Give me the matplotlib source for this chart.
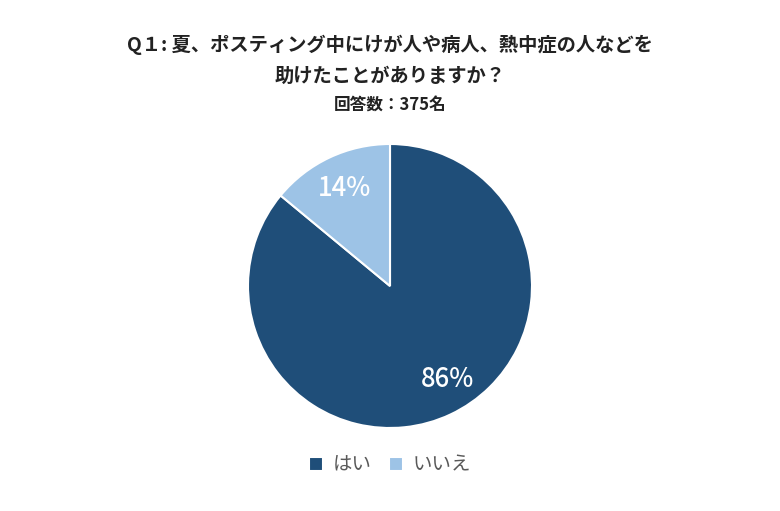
import matplotlib.pyplot as plt

plt.rcParams['font.family'] = ['Noto Sans CJK JP', 'DejaVu Sans']

# データ
labels = ['はい', 'いいえ']
values = [86, 14]
colors = ['#1F4E79', '#9DC3E6']

fig = plt.figure(figsize=(7.8, 5.11), dpi=100)
fig.patch.set_facecolor('white')

# 円グラフ
ax = fig.add_axes([(390 - 142) / 780, (225 - 142) / 511, 284 / 780, 284 / 511])
wedges, texts, autotexts = ax.pie(
    values, colors=colors, startangle=90, counterclock=False,
    autopct='%d%%', pctdistance=0.76,
    wedgeprops=dict(edgecolor='white', linewidth=1.5),
    textprops=dict(color='white', fontsize=18.5, fontweight='medium'))
# 86% のラベルを少し右上へ
x0, y0 = autotexts[0].get_position()
autotexts[0].set_position((x0 + 0.08, y0 + 0.03))
ax.set_xlim(-1, 1)
ax.set_ylim(-1, 1)
ax.set_aspect('equal')

# タイトル
fig.text(0.5, 1 - 45 / 511, 'Q１: 夏、ポスティング中にけが人や病人、熱中症の人などを',
         ha='center', va='center', fontsize=13.9, fontweight='bold', color='#222222')
fig.text(0.5, 1 - 76 / 511, '助けたことがありますか？',
         ha='center', va='center', fontsize=13.9, fontweight='bold', color='#222222')
fig.text(0.5, 1 - 105 / 511, '回答数：375名',
         ha='center', va='center', fontsize=12, fontweight='bold', color='#222222')

# 凡例
fig.legend(wedges, labels, loc='center', bbox_to_anchor=(0.5, 1 - 465 / 511),
           ncol=2, frameon=False, fontsize=14, handlelength=0.7, handleheight=0.7,
           handletextpad=0.5, columnspacing=0.9, labelcolor='#595959')

fig.savefig('out.png', dpi=100)
